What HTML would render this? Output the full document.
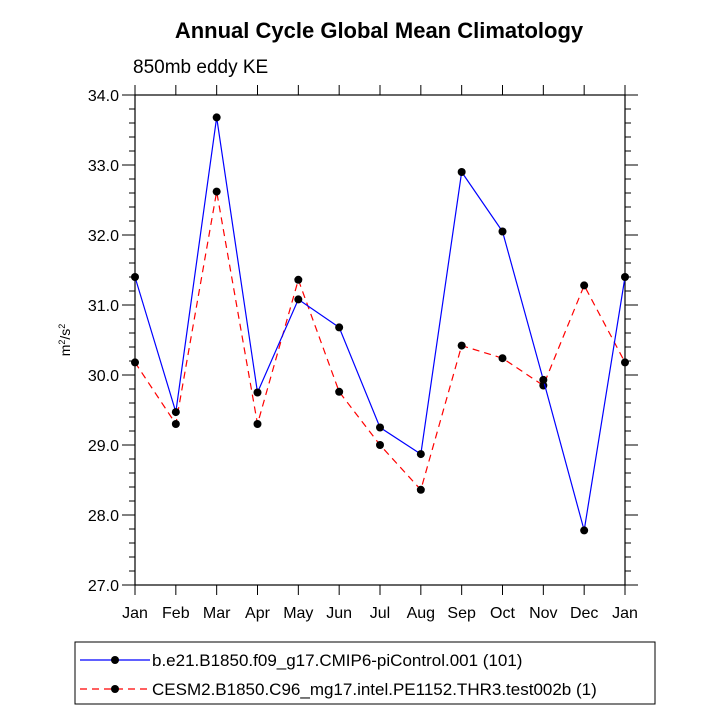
<!DOCTYPE html>
<html><head><meta charset="utf-8"><style>body{margin:0;background:#fff}svg{display:block;font-family:"Liberation Sans",sans-serif}</style></head>
<body>
<svg id="c" width="727" height="727" viewBox="0 0 727 727" xmlns="http://www.w3.org/2000/svg">
<text x="379" y="38" text-anchor="middle" font-size="22" font-weight="bold">Annual Cycle Global Mean Climatology</text>
<text x="133" y="73" font-size="19">850mb eddy KE</text>
<text transform="translate(70,340) rotate(-90)" text-anchor="middle" font-size="14">m<tspan dy="-5" font-size="9">2</tspan><tspan dy="5">/s</tspan><tspan dy="-5" font-size="9">2</tspan></text>
<g id="axes"></g>
<g id="series"></g>
<g>
<rect x="75" y="642" width="580" height="62" fill="none" stroke="#000" stroke-width="1"/>
<line x1="80" y1="660" x2="150" y2="660" stroke="#0000ff" stroke-width="1.2"/><circle cx="115" cy="660" r="4" fill="#000"/>
<text x="152" y="666" font-size="17">b.e21.B1850.f09_g17.CMIP6-piControl.001 (101)</text>
<line x1="80" y1="689" x2="150" y2="689" stroke="#ff0000" stroke-width="1.2" stroke-dasharray="7,5"/><circle cx="115" cy="689" r="4" fill="#000"/>
<text x="152" y="695" font-size="17">CESM2.B1850.C96_mg17.intel.PE1152.THR3.test002b (1)</text>
</g>
</svg>
<script>
const months=["Jan","Feb","Mar","Apr","May","Jun","Jul","Aug","Sep","Oct","Nov","Dec","Jan"];
const yTicks=[27,28,29,30,31,32,33,34];
const seriesBlue=[31.4,29.47,33.68,29.75,31.08,30.68,29.25,28.87,32.9,32.05,29.93,27.78,31.4];
const seriesRed=[30.18,29.3,32.62,29.3,31.36,29.76,29.0,28.36,30.42,30.24,29.85,31.28,30.18];
const L=135,R=625,T=95,B=585,ymin=27,ymax=34;
const xs=i=>L+(R-L)*i/(months.length-1);
const ys=v=>B-(v-ymin)/(ymax-ymin)*(B-T);
const NS="http://www.w3.org/2000/svg";
function mk(t,a,p){const e=document.createElementNS(NS,t);for(const k in a)e.setAttribute(k,a[k]);p.appendChild(e);return e;}
const ax=document.getElementById('axes');
const fr=mk('rect',{x:L,y:T,width:R-L,height:B-T,fill:'none',stroke:'#000','stroke-width':1.2},ax);


for(let v=ymin;v<=ymax+1e-6;v+=0.2){const maj=Math.abs(v-Math.round(v))<1e-6;const len=maj?13:6;const y=ys(v);
mk('line',{x1:L-len,y1:y,x2:L,y2:y,stroke:'#000','stroke-width':1},ax);
mk('line',{x1:R,y1:y,x2:R+len,y2:y,stroke:'#000','stroke-width':1},ax);}
yTicks.forEach(v=>{const t=mk('text',{x:L-16,y:ys(v)+6,'text-anchor':'end','font-size':16},ax);t.textContent=v.toFixed(1);

});
months.forEach((m,i)=>{const x=xs(i);
mk('line',{x1:x,y1:B,x2:x,y2:B+10,stroke:'#000','stroke-width':1},ax);
mk('line',{x1:x,y1:T-10,x2:x,y2:T,stroke:'#000','stroke-width':1},ax);
const t=mk('text',{x:x,y:B+33,'text-anchor':'middle','font-size':16},ax);t.textContent=m;

});
const sg=document.getElementById('series');
function draw(vals,color,dash,name){
const pl=mk('polyline',{points:vals.map((v,i)=>xs(i)+','+ys(v)).join(' '),fill:'none',stroke:color,'stroke-width':1.2,'stroke-dasharray':dash},sg);


vals.forEach((v,i)=>{const c=mk('circle',{cx:xs(i),cy:ys(v),r:4,fill:'#000'},sg);

});}
draw(seriesRed,'#ff0000','7,5','red-series');
draw(seriesBlue,'#0000ff','none','blue-series');
</script>
</body></html>
